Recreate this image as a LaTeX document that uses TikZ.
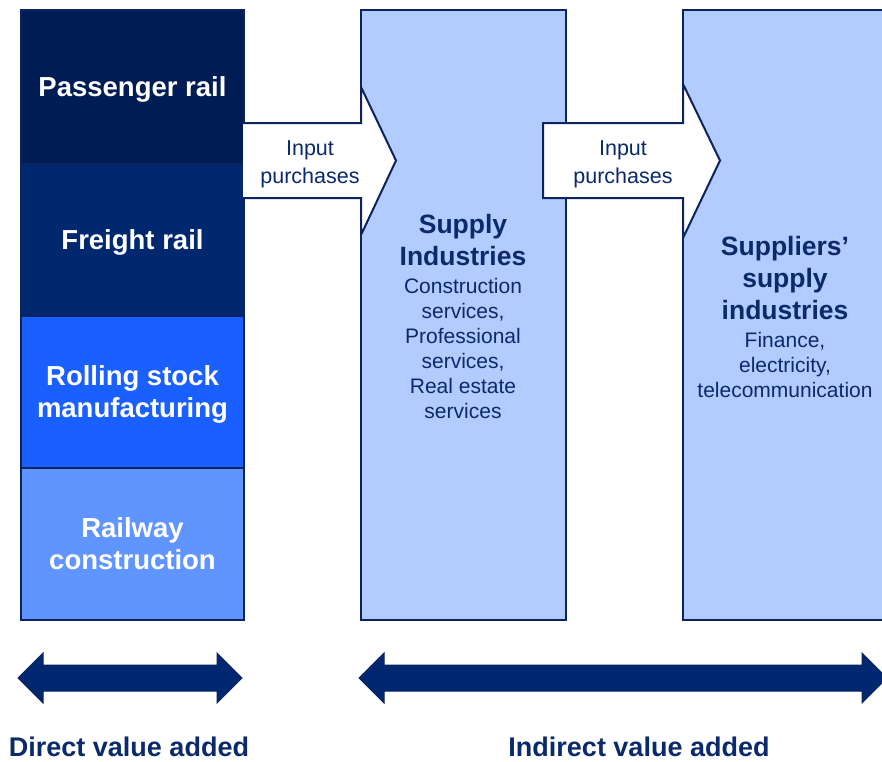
\documentclass[tikz,border=0pt]{standalone}
\usepackage{fontspec}
\setmainfont{Liberation Sans}
\definecolor{navy}{HTML}{0B235E}
\definecolor{passcol}{HTML}{001C54}
\definecolor{freightcol}{HTML}{00286E}
\definecolor{rollcol}{HTML}{1A5FFF}
\definecolor{railcol}{HTML}{6095FF}
\definecolor{panelcol}{HTML}{B3CCFF}
\definecolor{textcol}{HTML}{0A2A6B}
\definecolor{bararrow}{HTML}{002870}
\tikzset{
  block/.style={draw=navy, line width=1.5pt, minimum width=223pt, inner sep=0pt,
    align=center, text=white, text depth=0pt, font=\fontsize{27.5}{32}\selectfont\bfseries},
  panel/.style={draw=navy, line width=2pt, fill=panelcol},
  title/.style={align=center, text=textcol, inner sep=0pt,
    font=\fontsize{26.5}{32}\selectfont\bfseries},
  desc/.style={align=center, text=textcol, inner sep=0pt,
    font=\fontsize{21}{25}\selectfont},
  inlabel/.style={align=center, text=textcol, inner sep=0pt,
    font=\fontsize{21.5}{27.5}\selectfont},
  flow/.style={fill=white, draw=navy, line width=2pt, line join=miter},
  span/.style={fill=bararrow, draw=navy, line width=1pt},
  spanlabel/.style={text=textcol, inner sep=0pt, font=\fontsize{27}{32}\selectfont\bfseries}
}
\begin{document}
\begin{tikzpicture}[x=1pt,y=-1pt]
\useasboundingbox (0,0) rectangle (882,761);

\node[block, fill=passcol, minimum height=154pt] (passenger) at (132.5,87) {Passenger rail};
\node[block, fill=freightcol, minimum height=152pt] (freight) at (132.5,240) {Freight rail};
\node[block, fill=rollcol, minimum height=152pt] (rolling) at (132.5,392) {Rolling stock\\manufacturing};
\node[block, fill=railcol, minimum height=152pt] (railway) at (132.5,544) {Railway\\construction};

\draw[panel] (361,10) rectangle (566,620);
\draw[panel] (683,10) rectangle (900,620);

\fill[white] (243,123) -- (361,123) -- (361,87) -- (396,160.5) -- (361,235) -- (361,198) -- (243,198) -- cycle;
\draw[flow] (243,123) -- (361,123) -- (361,87) -- (396,160.5) -- (361,235) -- (361,198) -- (243,198);
\draw[flow] (543,123) -- (683,123) -- (683,84) -- (720,160.5) -- (683,238) -- (683,198) -- (543,198) -- cycle;

\node[inlabel] (input1) at (310,164.5) {Input\\purchases};
\node[inlabel] (input2) at (623,164.5) {Input\\purchases};

\node[title] (supply) at (463,240) {Supply\\Industries};
\node[desc] (supplydesc) at (463,348) {Construction\\services,\\Professional\\services,\\Real estate\\services};
\node[title] (suppliers) at (785,278) {Suppliers'\\supply\\industries};
\node[desc] (suppliersdesc) at (785,365) {Finance,\\electricity,\\telecommunication};

\draw[span] (18,678) -- (43,653) -- (43,665) -- (217,665) -- (217,653) -- (242,678)
  -- (217,703) -- (217,691) -- (43,691) -- (43,703) -- cycle;
\draw[span] (359,678) -- (384,653) -- (384,665) -- (862,665) -- (862,653) -- (887,678)
  -- (862,703) -- (862,691) -- (384,691) -- (384,703) -- cycle;

\node[spanlabel] (direct) at (129,747) {Direct value added};
\node[spanlabel] (indirect) at (639,747) {Indirect value added};
\end{tikzpicture}
\end{document}
